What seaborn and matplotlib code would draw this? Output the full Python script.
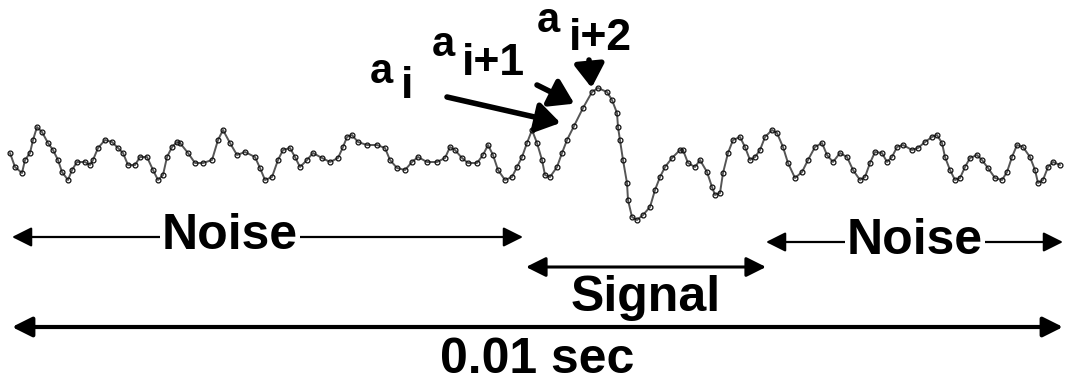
import matplotlib
matplotlib.use("Agg")
import matplotlib.pyplot as plt
import seaborn as sns
import pandas as pd

# Sampled waveform: time in samples (1052 samples span 0.01 sec), amplitude in arbitrary units
t = [0, 5, 12, 15, 20, 23, 27, 32, 38, 43, 48, 52, 58, 62, 67, 75, 80, 83, 88, 95,
     102, 108, 113, 118, 125, 130, 137, 143, 148, 153, 157, 162, 167,
     170, 178, 185, 193, 202, 208, 213, 220, 227, 235, 245, 250, 255, 262, 268, 273,
     280, 285, 290, 297, 303, 312, 320, 328, 333, 337,
     342, 348, 357, 367, 375, 380, 387, 395, 402, 408, 417, 427, 435, 440, 445, 452,
     458, 467, 473, 478, 483, 488, 495, 502,
     507, 512, 517, 522, 527, 532, 535, 540, 547, 552, 557, 564, 573, 582, 588, 597,
     602, 607, 608, 610, 613, 617, 618, 622, 627, 633, 640, 645, 650, 655, 662, 670,
     673, 678, 685, 690, 697, 702, 705, 710, 713, 718, 723, 730, 735, 740, 745, 750,
     755, 762, 767, 773, 778, 785, 792, 798, 805, 812, 817, 823, 830, 837, 843, 850,
     855, 860,
     865, 872, 877, 882, 887, 893, 902, 908, 915, 922, 927, 932, 935, 940, 945, 950,
     955, 960, 967, 972, 978, 985, 992, 997, 1002, 1007, 1013, 1020, 1025, 1028, 1033,
     1038, 1043, 1050]
amp = [7, -7, -13, 0, 7, 20, 33, 28, 17, 10, 0, -12, -20, -10, -2, -2, -5, 0, 12, 20,
       18, 12, 7, -5, -5, 3, 3, -10, -20, -15, 3, 13, 18,
       17, 7, -3, -3, 0, 20, 30, 17, 5, 8, 3, -8, -20, -17, 0, 10,
       12, 3, -7, 0, 7, 2, -2, 2, 13, 23,
       25, 18, 15, 15, 12, 0, -8, -10, -2, 3, -2, -2, 2, 13, 10, 2,
       -3, -3, 5, 15, 5, -10, -20, -17,
       -7, 3, 17, 30, 17, 0, -15, -17, -7, 7, 20, 34, 52, 68, 72, 68,
       60, 47, 33, 20, 0, -23, -40, -57, -60, -55, -47, -30, -17, -7, 2, 10,
       10, -3, -7, 0, -12, -27, -35, -33, -13, 7, 20, 23, 13, 0, 3, 10,
       23, 30, 27, 13, -3, -18, -12, 0, 13, 17, 5, -2, 7, 3, -10, -20,
       -17, -3,
       8, 7, -2, 3, 13, 15, 10, 12, 18, 23, 25, 17, 3, -10, -20, -18,
       -7, 2, 5, 0, -8, -18, -20, -12, 3, 15, 13, 3, -10, -23, -20,
       -7, -2, -5]

# Three consecutive samples on the rising edge of the signal
marked_t = [564, 573, 582]
marked_sub = ["i", "i+1", "i+2"]

# Time segments (same sample units as t)
noise_left = (2, 513)
signal_span = (516, 756)
noise_right = (756, 1053)
record_span = (2, 1053)
record_label = "0.01 sec"

df = pd.DataFrame({"t": t, "amp": amp})

sns.set_theme(style="white")
plt.rcParams["font.family"] = ["Liberation Sans", "DejaVu Sans"]
plt.rcParams["text.color"] = "black"
big = 36
sz_a = 30
sz_sub = 32

fig = plt.figure(figsize=(10.65, 3.85), dpi=100)
ax = fig.add_axes([0, 0, 1, 1])
ax.set_xlim(-10, 1055)
ax.set_ylim(-225, 160)
ax.set_axis_off()

sns.lineplot(data=df, x="t", y="amp", ax=ax, color="#555555", lw=1.4,
             marker="o", markersize=3.5, markerfacecolor="none",
             markeredgecolor="#111111", markeredgewidth=0.9)

amp_at = dict(zip(t, amp))

# Labels a_i, a_(i+1), a_(i+2) with arrows pointing at their samples
label_pos = [((360, 77), (391, 62), (437, 63), 10),
             ((422, 104), (452, 85), (527, 75), 7),
             ((527, 128), (559, 110), (579, 100), 3)]
head = "-|>,head_length=0.7,head_width=0.45"
for tk, sub, (a_xy, s_xy, tail, shrink) in zip(marked_t, marked_sub, label_pos):
    ax.text(*a_xy, "a", fontsize=sz_a, fontweight="bold", ha="left", va="baseline")
    ax.text(*s_xy, sub, fontsize=sz_sub, fontweight="bold", ha="left", va="baseline")
    ax.annotate("", xy=(tk, amp_at[tk]), xytext=tail,
                arrowprops=dict(arrowstyle=head, color="black", lw=4,
                                mutation_scale=20, shrinkA=0, shrinkB=shrink))


def span_arrow(span, y, lw):
    ax.annotate("", xy=(span[1], y), xytext=(span[0], y),
                arrowprops=dict(arrowstyle="<|-|>,head_length=0.6,head_width=0.3",
                                color="black", lw=lw, mutation_scale=20,
                                shrinkA=0, shrinkB=0))


box = dict(facecolor="white", edgecolor="none", pad=1)
span_arrow(noise_left, -77, 1.6)
ax.text(220, -76, "Noise", fontsize=big, fontweight="bold", ha="center",
        va="center", bbox=box)
span_arrow(noise_right, -82, 1.6)
ax.text(905, -81, "Noise", fontsize=big, fontweight="bold", ha="center",
        va="center", bbox=box)
span_arrow(signal_span, -107, 2.2)
ax.text(sum(signal_span) / 2, -138, "Signal", fontsize=big, fontweight="bold",
        ha="center", va="center")
span_arrow(record_span, -167, 3)
ax.text(sum(record_span) / 2, -200, record_label, fontsize=big, fontweight="bold",
        ha="center", va="center")

fig.savefig("out.png", dpi=100, facecolor="white")
